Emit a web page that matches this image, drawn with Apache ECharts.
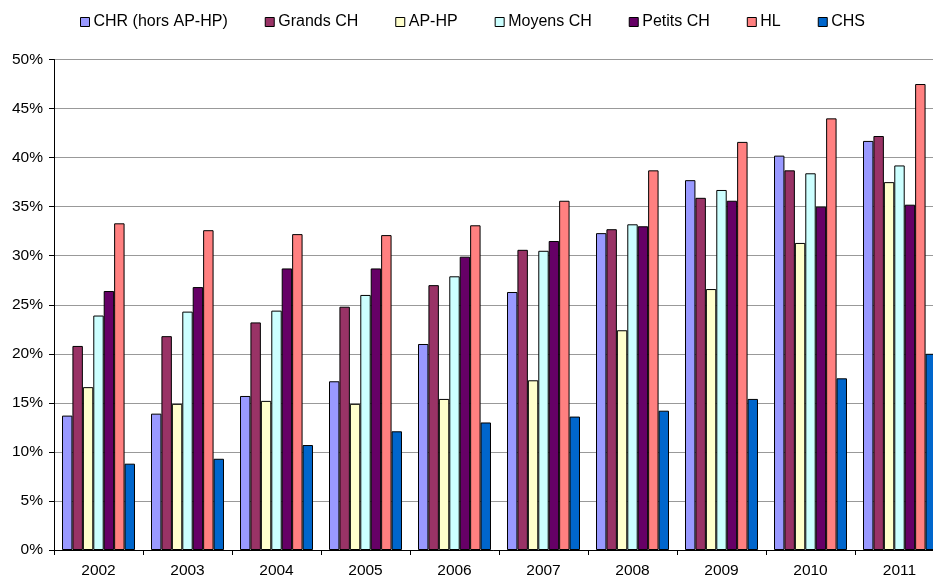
<!DOCTYPE html>
<html>
<head>
<meta charset="utf-8">
<script src="https://cdn.jsdelivr.net/npm/echarts@6/dist/echarts.min.js"></script>
<style>
html,body{margin:0;padding:0;background:#fff;}
#chart{width:933px;height:579px;}
</style>
</head>
<body>
<div id="chart"></div>
<script>
const years = ['2002','2003','2004','2005','2006','2007','2008','2009','2010','2011'];
const seriesNames = ['CHR (hors AP-HP)','Grands CH','AP-HP','Moyens CH','Petits CH','HL','CHS'];
const chr    = [13.7, 13.9, 15.7, 17.2, 21.0, 26.3, 32.3, 37.7, 40.2, 41.7];
const grands = [20.8, 21.8, 23.2, 24.8, 27.0, 30.6, 32.7, 35.9, 38.7, 42.2];
const aphp   = [16.6, 14.9, 15.2, 14.9, 15.4, 17.3, 22.4, 26.6, 31.3, 37.5];
const moyens = [23.9, 24.3, 24.4, 26.0, 27.9, 30.5, 33.2, 36.7, 38.4, 39.2];
const petits = [26.4, 26.8, 28.7, 28.7, 29.9, 31.5, 33.0, 35.6, 35.0, 35.2];
const hl     = [33.3, 32.6, 32.2, 32.1, 33.1, 35.6, 38.7, 41.6, 44.0, 47.5];
const chs    = [8.8, 9.3, 10.7, 12.1, 13.0, 13.6, 14.2, 15.4, 17.5, 20.0];
const colors = ['#9999FF','#993366','#FFFFCC','#CCFFFF','#660066','#FF8080','#0066CC'];
const allData = [chr, grands, aphp, moyens, petits, hl, chs];

const FONT = 'Liberation Sans, Arial, sans-serif';
const chart = echarts.init(document.getElementById('chart'), null, {renderer:'canvas'});
chart.setOption({
  animation: false,
  backgroundColor: '#fff',
  color: colors,
  legend: {
    top: 9,
    left: 75,
    itemWidth: 9,
    itemHeight: 9,
    itemGap: 37,
    icon: 'rect',
    itemStyle: { borderColor: '#000', borderWidth: 1 },
    textStyle: { fontFamily: FONT, fontSize: 16, color: '#000', padding: [0,0,0,-1] },
    data: seriesNames
  },
  grid: { left: 54, right: -11, top: 59.5, bottom: 29, containLabel: false, outerBoundsMode: 'none' },
  xAxis: {
    type: 'category',
    data: years,
    axisLine: { lineStyle: { color: '#000', width: 1 } },
    axisTick: { show: true, length: 5, lineStyle: { color: '#000' } },
    axisLabel: { fontFamily: FONT, fontSize: 15.5, color: '#000', margin: 13 },
    splitLine: { show: false }
  },
  yAxis: {
    type: 'value',
    min: 0, max: 50, interval: 5,
    axisLine: { show: true, lineStyle: { color: '#000', width: 1 } },
    axisTick: { show: true, length: 5, lineStyle: { color: '#000' } },
    axisLabel: { fontFamily: FONT, fontSize: 15.5, color: '#000', margin: 11, formatter: '{value}%' },
    splitLine: { show: true, lineStyle: { color: '#999', width: 1 } }
  },
  series: seriesNames.map((name, i) => ({
    name: name,
    type: 'bar',
    data: allData[i],
    barGap: '0%',
    barCategoryGap: '18%',
    itemStyle: { color: colors[i], borderColor: '#000', borderWidth: 1 }
  }))
});
</script>
</body>
</html>
